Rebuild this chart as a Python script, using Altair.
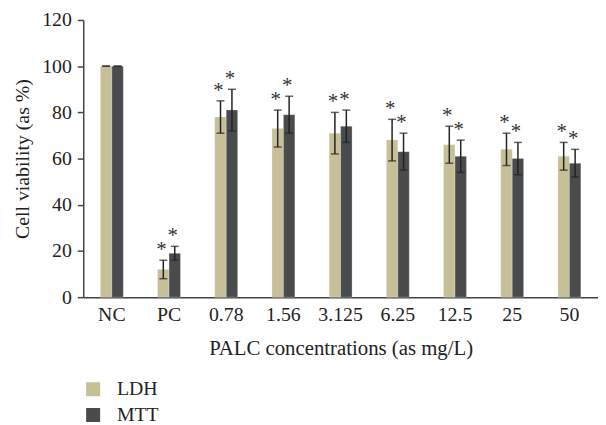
import altair as alt
import pandas as pd

categories = ["NC", "PC", "0.78", "1.56", "3.125", "6.25", "12.5", "25", "50"]
series = ["LDH", "MTT"]
ldh_mean = [100, 12, 78, 73, 71, 68, 66, 64, 61]
ldh_lo = [100, 8, 71, 65, 62, 59, 58, 57, 55]
ldh_hi = [100, 16, 85, 81, 80, 77, 74, 71, 67]
mtt_mean = [100, 19, 81, 79, 74, 63, 61, 60, 58]
mtt_lo = [100, 16, 72, 71, 67, 55, 54, 53, 52]
mtt_hi = [100, 22, 90, 87, 81, 71, 68, 67, 64]
ldh_star = ["", "*", "*", "*", "*", "*", "*", "*", "*"]
mtt_star = ["", "*", "*", "*", "*", "*", "*", "*", "*"]
colors = ["#c6bf98", "#4a4b4d"]

rows = []
for i, c in enumerate(categories):
    rows.append(dict(cat=c, s="LDH", v=ldh_mean[i], lo=ldh_lo[i], hi=ldh_hi[i], star=ldh_star[i]))
    rows.append(dict(cat=c, s="MTT", v=mtt_mean[i], lo=mtt_lo[i], hi=mtt_hi[i], star=mtt_star[i]))
df = pd.DataFrame(rows)

FONT = "Liberation Serif"

x = alt.X("cat:N", sort=categories,
          scale=alt.Scale(paddingInner=0.6, paddingOuter=0.3),
          axis=alt.Axis(title="PALC concentrations (as mg/L)", labelAngle=0, ticks=False,
                        labelPadding=8, titlePadding=13, titleFontSize=21))
xo = alt.XOffset("s:N", sort=series, scale=alt.Scale(paddingInner=0, paddingOuter=0))
yscale = alt.Scale(domain=[0, 120])

base = alt.Chart(df)

bars = base.mark_bar(stroke="#eeeeee", strokeWidth=0.5, strokeOpacity=0.6).encode(
    x=x, xOffset=xo,
    y=alt.Y("v:Q", scale=yscale,
            axis=alt.Axis(title="Cell viability (as %)", values=[0, 20, 40, 60, 80, 100, 120],
                          grid=False, tickSize=6, labelPadding=6, titlePadding=9)),
    color=alt.Color("s:N", sort=series, scale=alt.Scale(domain=series, range=colors),
                    legend=alt.Legend(title=None, orient="none", legendX=0, legendY=363,
                                      direction="vertical", symbolType="square",
                                      symbolSize=200, symbolStrokeWidth=0, rowPadding=6,
                                      labelOffset=14, padding=0)),
)

err = base.mark_rule(color="#222222", strokeWidth=1.5).encode(
    x=x, xOffset=xo, y=alt.Y("lo:Q", scale=yscale), y2="hi:Q")
cap_hi = base.mark_tick(color="#222222", thickness=1.5, size=8, orient="horizontal").encode(
    x=x, xOffset=xo, y=alt.Y("hi:Q", scale=yscale))
cap_lo = base.mark_tick(color="#222222", thickness=1.5, size=8, orient="horizontal").encode(
    x=x, xOffset=xo, y=alt.Y("lo:Q", scale=yscale))
stars = base.mark_text(font=FONT, fontSize=21, color="#333333", baseline="alphabetic",
                       dy=-4, dx=-2).encode(
    x=x, xOffset=xo, y=alt.Y("hi:Q", scale=yscale), text="star:N")

chart = alt.layer(bars, err, cap_hi, cap_lo, stars).properties(
    width=520, height=280,
    autosize=alt.AutoSizeParams(type="none"),
    padding={"left": 76, "top": 10, "right": 0, "bottom": 127},
).configure_view(stroke=None).configure_axis(
    labelFont=FONT, titleFont=FONT, labelFontSize=20, titleFontSize=20,
    labelColor="#222222", titleColor="#222222", titleFontWeight="normal",
    domainColor="#444444", tickColor="#444444", domainWidth=1.5, tickWidth=1.5,
).configure_legend(labelFont=FONT, labelFontSize=20, labelColor="#222222")

chart.save("out.html", embed_options={"renderer": "svg", "actions": False})
